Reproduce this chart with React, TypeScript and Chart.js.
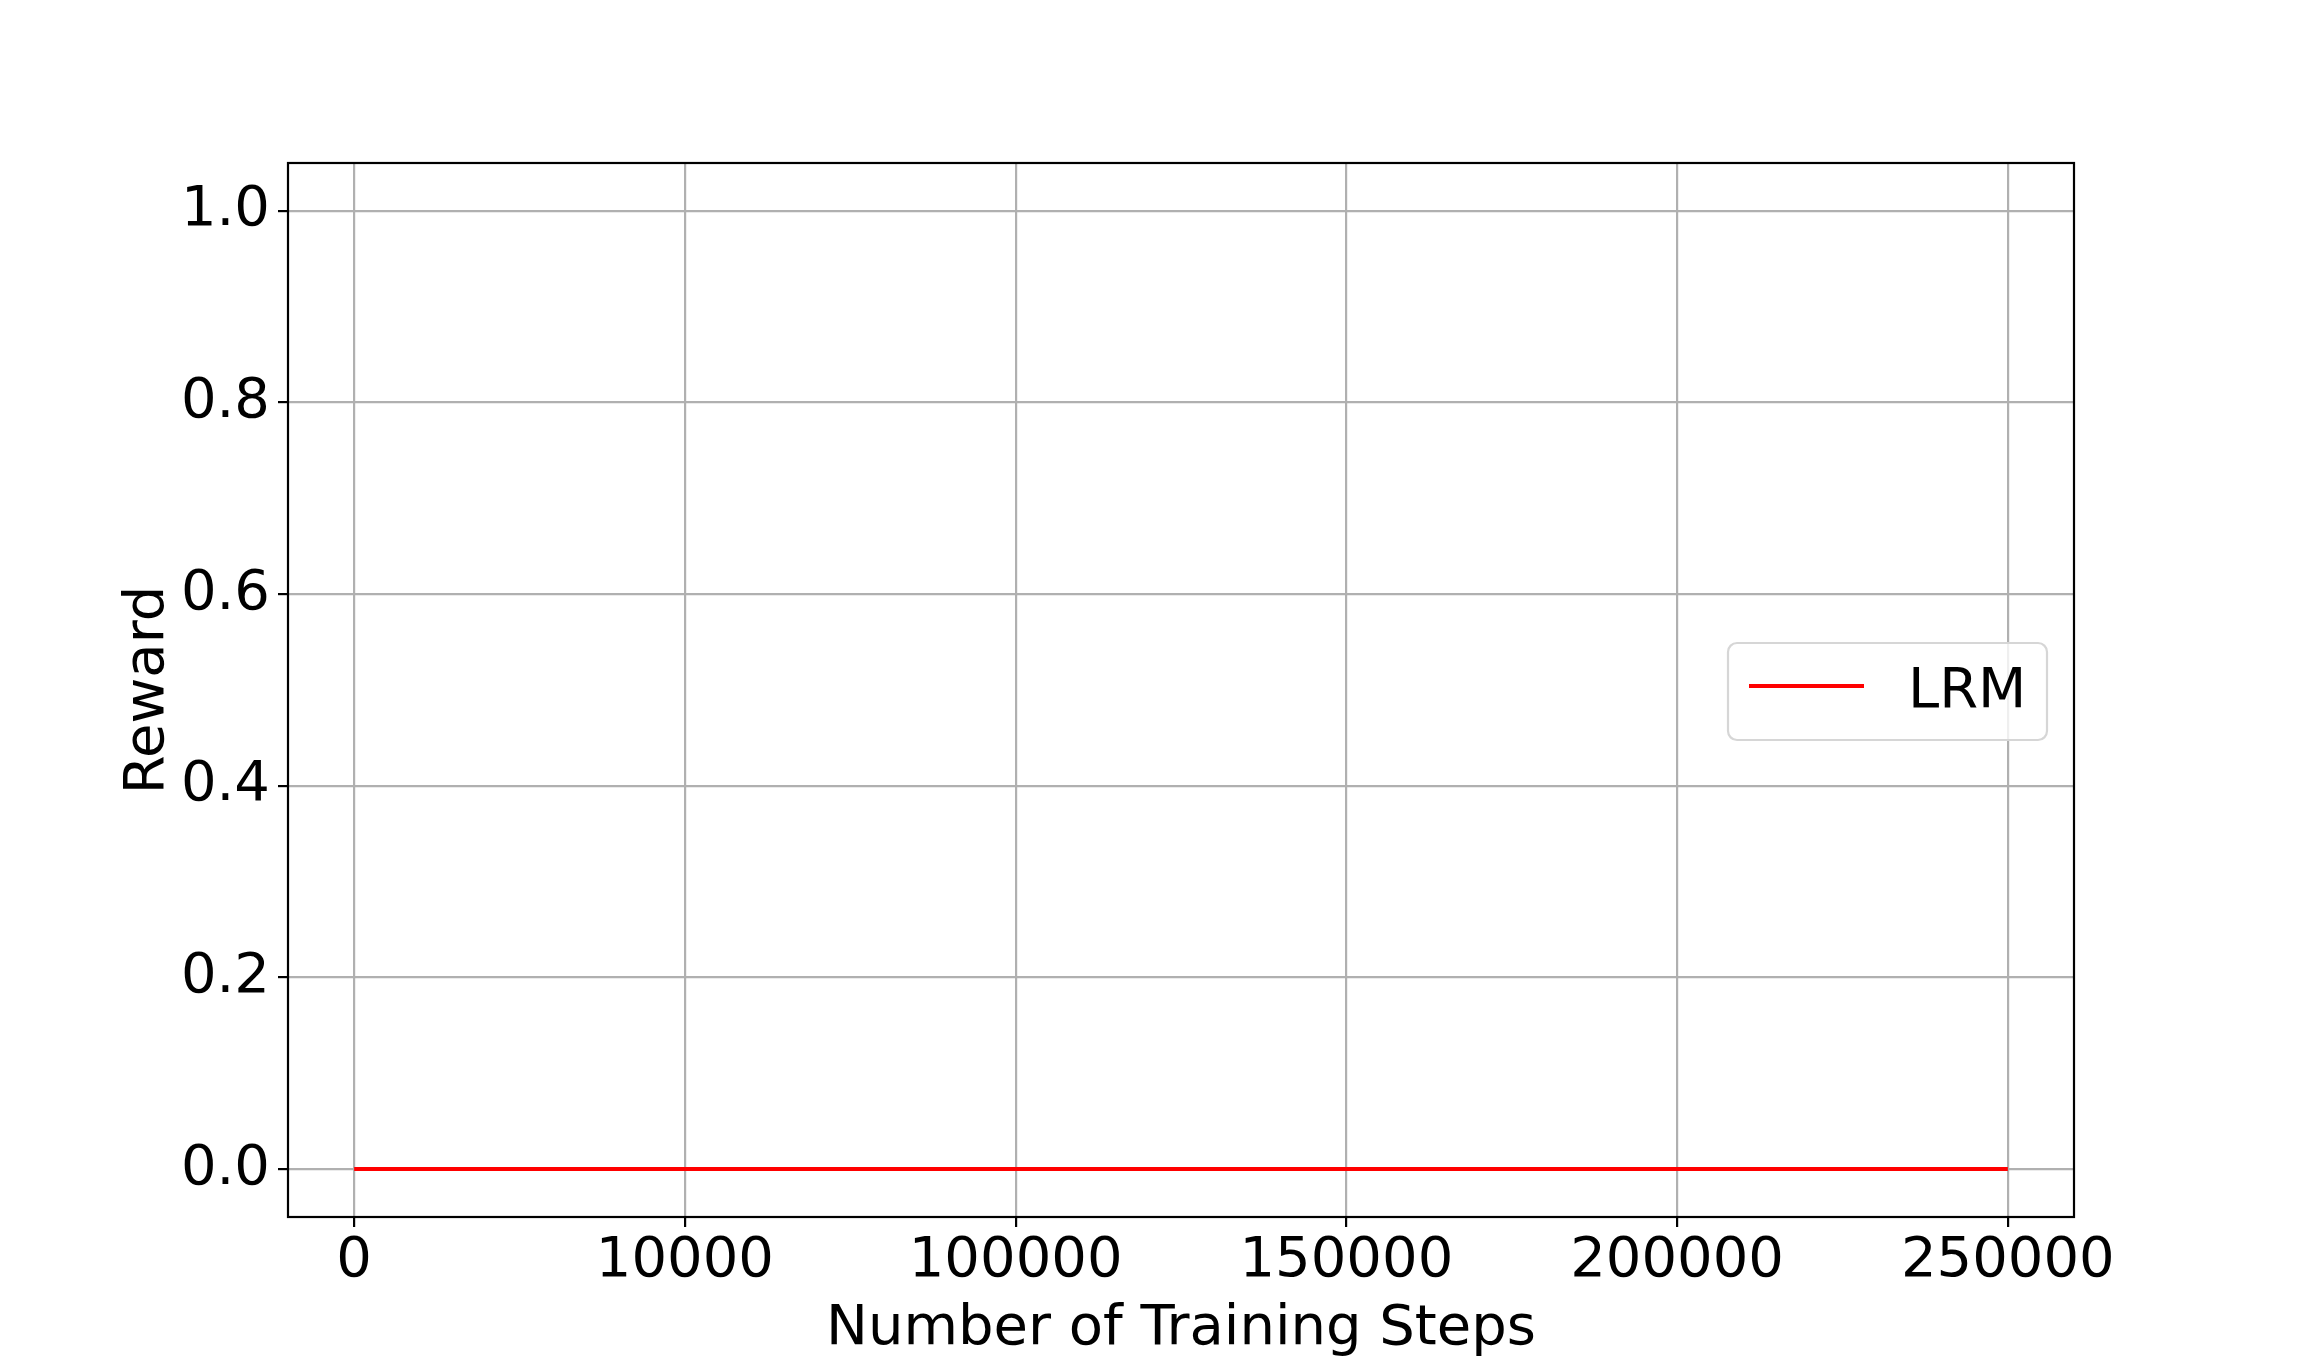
import React, { useEffect, useRef } from "react";
import { Chart, registerables } from "chart.js";

Chart.register(...registerables);

const stepLabels = ["0", "10000", "100000", "150000", "200000", "250000"];
const stepIndex = [0, 1, 2, 3, 4, 5];
const rewardLRM = [0, 0, 0, 0, 0, 0];
const yTicks = [0, 0.2, 0.4, 0.6, 0.8, 1.0];
const seriesName = "LRM";
const xTitle = "Number of Training Steps";
const yTitle = "Reward";

const FONT = "'DejaVu Sans', sans-serif";

const framePlugin = {
  id: "frame",
  afterDatasetsDraw(chart: any) {
    const { ctx, chartArea } = chart;
    ctx.save();
    ctx.strokeStyle = "#000";
    ctx.lineWidth = 2.2;
    ctx.strokeRect(chartArea.left, chartArea.top, chartArea.right - chartArea.left, chartArea.bottom - chartArea.top);
    ctx.restore();
  },
};

const legendPlugin = {
  id: "mplLegend",
  afterDraw(chart: any) {
    const { ctx } = chart;
    const ds = chart.data.datasets[0];
    const x0 = 1728, y0 = 643, w = 319, h = 97, r = 9;
    ctx.save();
    ctx.beginPath();
    ctx.roundRect(x0, y0, w, h, r);
    ctx.fillStyle = "rgba(255,255,255,0.8)";
    ctx.fill();
    ctx.strokeStyle = "#d6d6d6";
    ctx.lineWidth = 2.2;
    ctx.stroke();
    ctx.beginPath();
    ctx.moveTo(1749, 686);
    ctx.lineTo(1864, 686);
    ctx.strokeStyle = ds.borderColor;
    ctx.lineWidth = 4;
    ctx.stroke();
    ctx.fillStyle = "#000";
    ctx.font = `56px ${FONT}`;
    ctx.textBaseline = "alphabetic";
    ctx.textAlign = "left";
    ctx.fillText(ds.label, 1908, 707);
    ctx.restore();
  },
};

export default function App() {
  const ref = useRef<HTMLCanvasElement>(null);
  useEffect(() => {
    document.body.style.margin = "0";
    const chart = new Chart(ref.current!, {
      type: "line",
      data: {
        datasets: [
          {
            label: seriesName,
            data: stepIndex.map((x, i) => ({ x, y: rewardLRM[i] })),
            borderColor: "#ff0000",
            backgroundColor: "#ff0000",
            borderWidth: 4,
            pointRadius: 0,
            tension: 0,
          },
        ],
      },
      options: {
        animation: false,
        responsive: false,
        devicePixelRatio: 1,
        layout: { padding: { top: 163, right: 230, left: 0, bottom: 0 } },
        plugins: { legend: { display: false }, tooltip: { enabled: false } },
        scales: {
          x: {
            type: "linear",
            min: -0.2,
            max: 5.2,
            afterBuildTicks: (s: any) => {
              s.ticks = stepIndex.map((v) => ({ value: v }));
            },
            afterFit: (s: any) => {
              s.height = 151;
            },
            ticks: {
              color: "#000",
              font: { family: FONT, size: 56 },
              padding: 1,
              maxRotation: 0,
              autoSkip: false,
              callback: (v: any) => stepLabels[Math.round(Number(v))] ?? "",
            },
            grid: { color: "#b0b0b0", lineWidth: 2.2, tickColor: "#000", tickWidth: 2.2, tickLength: 10 },
            border: { display: false },
            title: {
              display: true,
              text: xTitle,
              color: "#000",
              font: { family: FONT, size: 56 },
              padding: { top: 0, bottom: 5 },
            },
          },
          y: {
            type: "linear",
            min: -0.05,
            max: 1.05,
            afterBuildTicks: (s: any) => {
              s.ticks = yTicks.map((v) => ({ value: v }));
            },
            afterFit: (s: any) => {
              s.width = 288;
            },
            ticks: {
              color: "#000",
              font: { family: FONT, size: 56 },
              padding: 8,
              callback: (v: any) => Number(v).toFixed(1),
            },
            grid: { color: "#b0b0b0", lineWidth: 2.2, tickColor: "#000", tickWidth: 2.2, tickLength: 10 },
            border: { display: false },
            title: {
              display: true,
              text: yTitle,
              color: "#000",
              font: { family: FONT, size: 56 },
              padding: { top: 115, bottom: 0 },
            },
          },
        },
      },
      plugins: [framePlugin, legendPlugin],
    } as any);
    return () => chart.destroy();
  }, []);
  return (
    <div style={{ position: "absolute", left: 0, top: 0, width: 2304, height: 1368, background: "#fff" }}>
      <canvas ref={ref} width={2304} height={1368} style={{ width: 2304, height: 1368, display: "block" }} />
    </div>
  );
}
